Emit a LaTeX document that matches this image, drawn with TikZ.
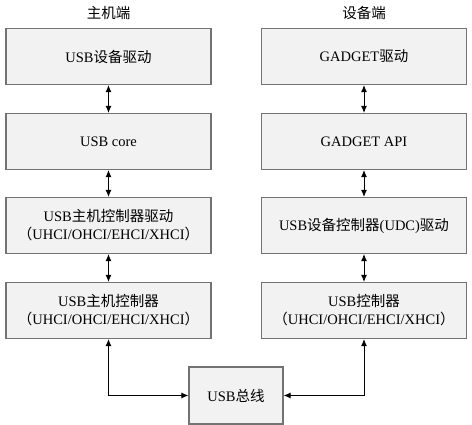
\documentclass[tikz,border=0pt]{standalone}
\usepackage{fontspec}
\setmainfont{Liberation Serif}
\newfontfamily\cjk{Noto Sans CJK SC}
\usetikzlibrary{arrows.meta}
\newcommand{\zh}[1]{{\cjk #1}}
\begin{document}
\begin{tikzpicture}[x=1pt,y=-1pt,
  blockbox/.style={draw=black!55, line width=1.2pt, fill=black!5, minimum width=205pt, minimum height=56pt, align=center, inner sep=0pt, font=\fontsize{14.5}{18}\selectfont},
  busbox/.style={blockbox, minimum width=94pt, minimum height=57pt},
  link/.style={line width=0.9pt, {Latex[length=7pt,width=6pt]}-{Latex[length=7pt,width=6pt]}},
  title/.style={font=\fontsize{14.5}{18}\selectfont\cjk, inner sep=0pt}]
\useasboundingbox (0,0) rectangle (472,425);
\node[title] (th) at (108.5,13) {主机端};
\node[title] (td) at (364,13) {设备端};
\node[blockbox] (l1) at (108.5,56.5) {USB\zh{设备驱动}};
\node[blockbox] (l2) at (108.5,141.5) {USB core};
\node[blockbox] (l3) at (108.5,225.5) {USB\zh{主机控制器驱动}\\\zh{（}UHCI/OHCI/EHCI/XHCI\zh{）}};
\node[blockbox] (l4) at (108.5,310.5) {USB\zh{主机控制器}\\\zh{（}UHCI/OHCI/EHCI/XHCI\zh{）}};
\node[blockbox] (r1) at (364,56.5) {GADGET\zh{驱动}};
\node[blockbox] (r2) at (364,141.5) {GADGET API};
\node[blockbox] (r3) at (364,225.5) {USB\zh{设备控制器}(UDC)\zh{驱动}};
\node[blockbox] (r4) at (364,310.5) {USB\zh{控制器}\\\zh{（}UHCI/OHCI/EHCI/XHCI\zh{）}};
\node[busbox] (bus) at (236,395.5) {USB\zh{总线}};
\draw[link] (l1.south) -- (l2.north);
\draw[link] (l2.south) -- (l3.north);
\draw[link] (l3.south) -- (l4.north);
\draw[link] (r1.south) -- (r2.north);
\draw[link] (r2.south) -- (r3.north);
\draw[link] (r3.south) -- (r4.north);
\draw[link] (l4.south) |- (bus.west);
\draw[link] (r4.south) |- (bus.east);
\end{tikzpicture}
\end{document}
